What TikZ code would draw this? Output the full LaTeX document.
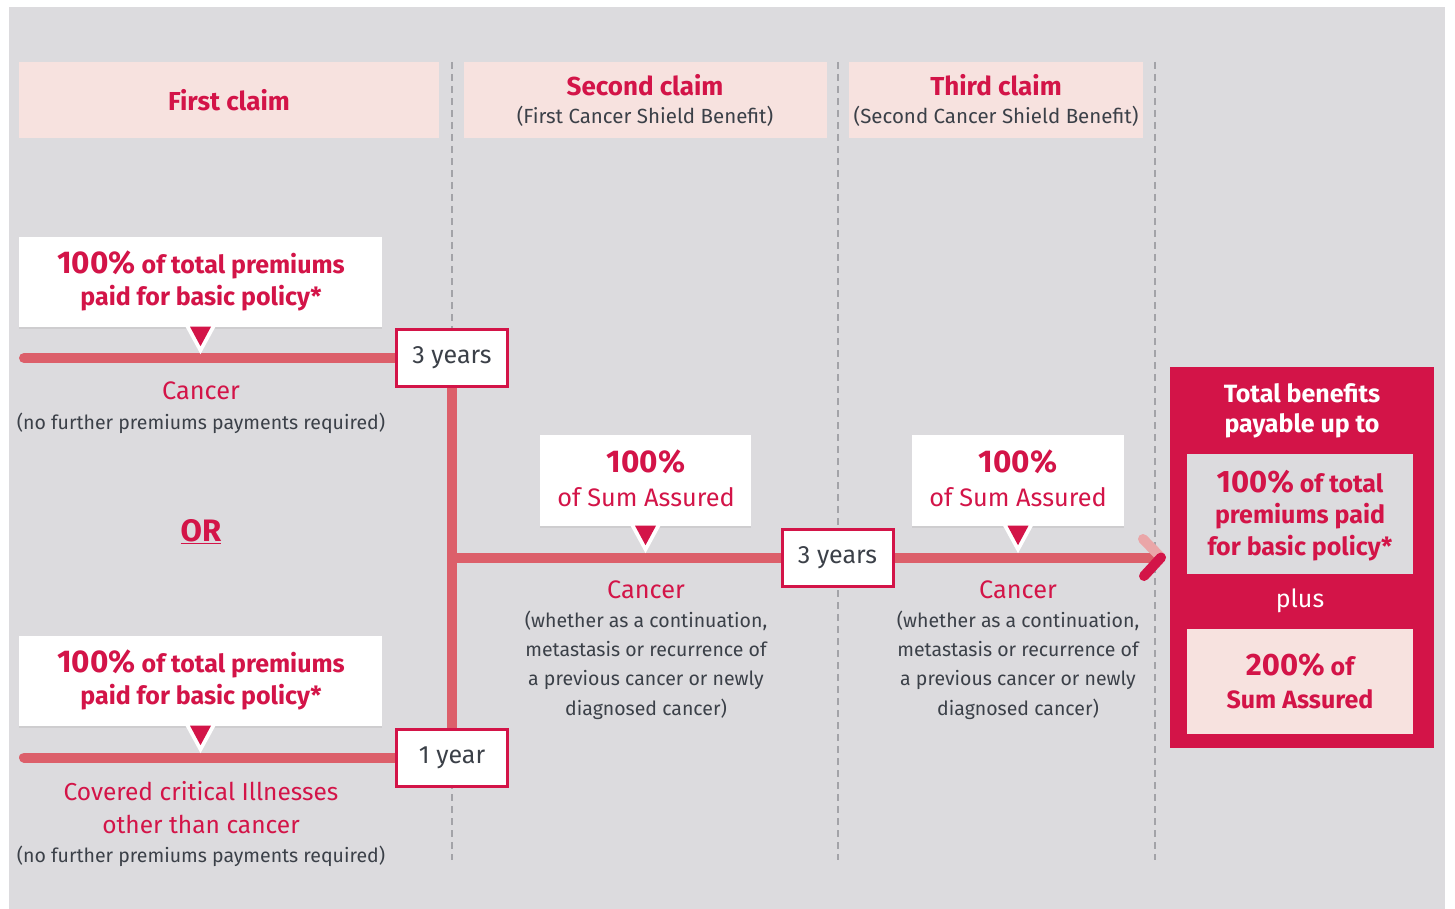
\documentclass[tikz,border=0pt]{standalone}
\usepackage{fontspec}
\setmainfont{Fira Sans}
\usetikzlibrary{shadows,calc}
\definecolor{bggray}{HTML}{DCDBDE}
\definecolor{pinkbg}{HTML}{F7E2DF}
\definecolor{crimson}{HTML}{D31448}
\definecolor{linered}{HTML}{DC5F6A}
\definecolor{lightarm}{HTML}{EAA6A8}
\definecolor{darktext}{HTML}{3B4048}
\definecolor{dashgray}{HTML}{A3A3A8}
\newcommand\fs[2]{\fontsize{#1}{#2}\selectfont}
\newcommand\mypointer[1]{%
  \fill[white] ([xshift=-15pt,yshift=0.5pt]#1.south) -- ([xshift=15pt,yshift=0.5pt]#1.south) -- ([yshift=-27pt]#1.south) -- cycle;
  \fill[crimson] ([xshift=-10.5pt,yshift=0.5pt]#1.south) -- ([xshift=10.5pt,yshift=0.5pt]#1.south) -- ([yshift=-19pt]#1.south) -- cycle;}
\tikzset{
  hdr/.style={fill=pinkbg, inner sep=0, minimum height=76},
  wbox/.style={fill=white, inner sep=0, drop shadow={opacity=0.15, shadow xshift=0pt, shadow yshift=-1.5pt}},
  yrbox/.style={fill=white, draw=crimson, line width=3pt, inner sep=0, minimum width=111, minimum height=57, font=\fs{25}{28}, text=darktext},
  rline/.style={line width=10pt, draw=linered},
  vdash/.style={draw=dashgray, line width=2.8pt, dash pattern=on 7pt off 5pt},
  redbold/.style={text=crimson, font=\bfseries\fs{25}{30}, inner sep=0},
  hdrbold/.style={text=crimson, font=\bfseries\fs{26}{30}, inner sep=0},
  redreg/.style={text=crimson, font=\fs{25.3}{30}, inner sep=0},
  darksmall/.style={text=darktext, font=\fs{19.5}{29.3}, align=center, inner sep=0},
  hdrsub/.style={text=darktext, font=\fs{20.5}{24}, inner sep=0},
  whitebold/.style={text=white, font=\bfseries\fs{25}{30}, align=center, inner sep=0},
}
\begin{document}
\begin{tikzpicture}[x=1pt,y=-1pt]
\useasboundingbox (0,0) rectangle (1455,909);
\fill[bggray] (9,7) rectangle (1445,909);
% dashed separators
\draw[vdash] (452,62) -- (452,860);
\draw[vdash] (838,62) -- (838,860);
\draw[vdash] (1155,62) -- (1155,860);
% headers
\node[hdr, minimum width=420] (h1) at (229,100) {};
\node[hdr, minimum width=363] (h2) at (645.5,100) {};
\node[hdr, minimum width=294] (h3) at (996,100) {};
\node[hdrbold] (h1t) at (229,100) {First claim};
\node[hdrbold] (h2t) at (645,85) {Second claim};
\node[hdrsub] (h2s) at (645,116) {(First Cancer Shield Benefit)};
\node[hdrbold] (h3t) at (996,85) {Third claim};
\node[hdrsub] (h3s) at (996,116) {(Second Cancer Shield Benefit)};
% year boxes (positions)
\node[yrbox] (y3a) at (452,358) {3 years};
\node[yrbox] (y1) at (452,757.5) {1 year};
\node[yrbox] (y3b) at (837.5,558) {3 years};
% lines
\coordinate (l1s) at (24,358);
\coordinate (l2s) at (24,757.5);
\coordinate (junc) at (452,558);
\coordinate (tip) at (1157,558);
\draw[rline, line cap=round] (l1s) -- (y3a.west);
\draw[rline, line cap=round] (l2s) -- (y1.west);
\draw[rline] (y3a.south) -- (y1.north);
\draw[rline] (junc) -- (y3b.west);
\draw[rline] (y3b.east) -- (tip);
\coordinate (armup) at (1143,539);
\coordinate (armdn) at (1144,576);
\coordinate (armtip) at (1161,557.5);
\draw[line width=10pt, draw=lightarm, line cap=round] (armup) -- (armtip);
\draw[line width=10pt, draw=crimson, line cap=round] (armtip) -- (armdn);
% redraw year boxes on top
\node[yrbox] at (y3a) {3 years};
\node[yrbox] at (y1) {1 year};
\node[yrbox] at (y3b) {3 years};
% white boxes
\node[wbox, minimum width=363, minimum height=90] (b1) at (200.5,282) {};
\node[wbox, minimum width=363, minimum height=90] (b2) at (200.5,681) {};
\node[wbox, minimum width=211, minimum height=91] (b3) at (645.5,480.5) {};
\node[wbox, minimum width=212, minimum height=91] (b4) at (1018,480.5) {};
\mypointer{b1}
\mypointer{b2}
\mypointer{b3}
\mypointer{b4}
% box texts
\node[redbold] (b1a) at (201,265) {{\fs{31.5}{33}100\%} of total premiums};
\node[redbold] (b1b) at (201,298) {paid for basic policy*};
\node[redbold] (b2a) at (201,664) {{\fs{31.5}{33}100\%} of total premiums};
\node[redbold] (b2b) at (201,697) {paid for basic policy*};
\node[redbold, font=\bfseries\fs{31.5}{33}] (b3a) at (646,462) {100\%};
\node[redreg] (b3b) at (646,497) {of Sum Assured};
\node[redbold, font=\bfseries\fs{31.5}{33}] (b4a) at (1018,462) {100\%};
\node[redreg] (b4b) at (1018,497) {of Sum Assured};
% labels left
\node[redreg] (c1) at (201,391) {Cancer};
\node[darksmall] (c1s) at (201,423) {(no further premiums payments required)};
\node[text=crimson, font=\bfseries\fs{31}{34}, inner sep=0] (or) at (201,532) {\underline{OR}};
\node[redreg, align=center, font=\fs{24.5}{33}] (c2) at (201,808) {Covered critical Illnesses\\other than cancer};
\node[darksmall] (c2s) at (201,856) {(no further premiums payments required)};
% labels middle / right
\node[redreg] (c3) at (646,590) {Cancer};
\node[darksmall] (c3s) at (646,665) {(whether as a continuation,\\metastasis or recurrence of\\a previous cancer or newly\\diagnosed cancer)};
\node[redreg] (c4) at (1018,590) {Cancer};
\node[darksmall] (c4s) at (1018,665) {(whether as a continuation,\\metastasis or recurrence of\\a previous cancer or newly\\diagnosed cancer)};
% total panel
\node[fill=crimson, inner sep=0, minimum width=264, minimum height=381] (tp) at (1302,557.5) {};
\node[whitebold] (tpt) at (1302,411) {Total benefits\\payable up to};
\node[fill=bggray, inner sep=0, minimum width=226, minimum height=120] (g1) at (1300,514) {};
\node[redbold] (g1a) at (1300,482) {{\fs{31}{33}100\%} of total};
\node[redbold] (g1b) at (1300,516) {premiums paid};
\node[redbold] (g1c) at (1300,548) {for basic policy*};
\node[text=white, font=\fs{25}{30}, inner sep=0] (plus) at (1300,601) {plus};
\node[fill=pinkbg, inner sep=0, minimum width=226, minimum height=105] (g2) at (1300,681.5) {};
\node[redbold] (g2a) at (1300,665) {{\fs{31}{33}200\%} of};
\node[redbold] (g2b) at (1300,699) {Sum Assured};
\end{tikzpicture}
\end{document}
